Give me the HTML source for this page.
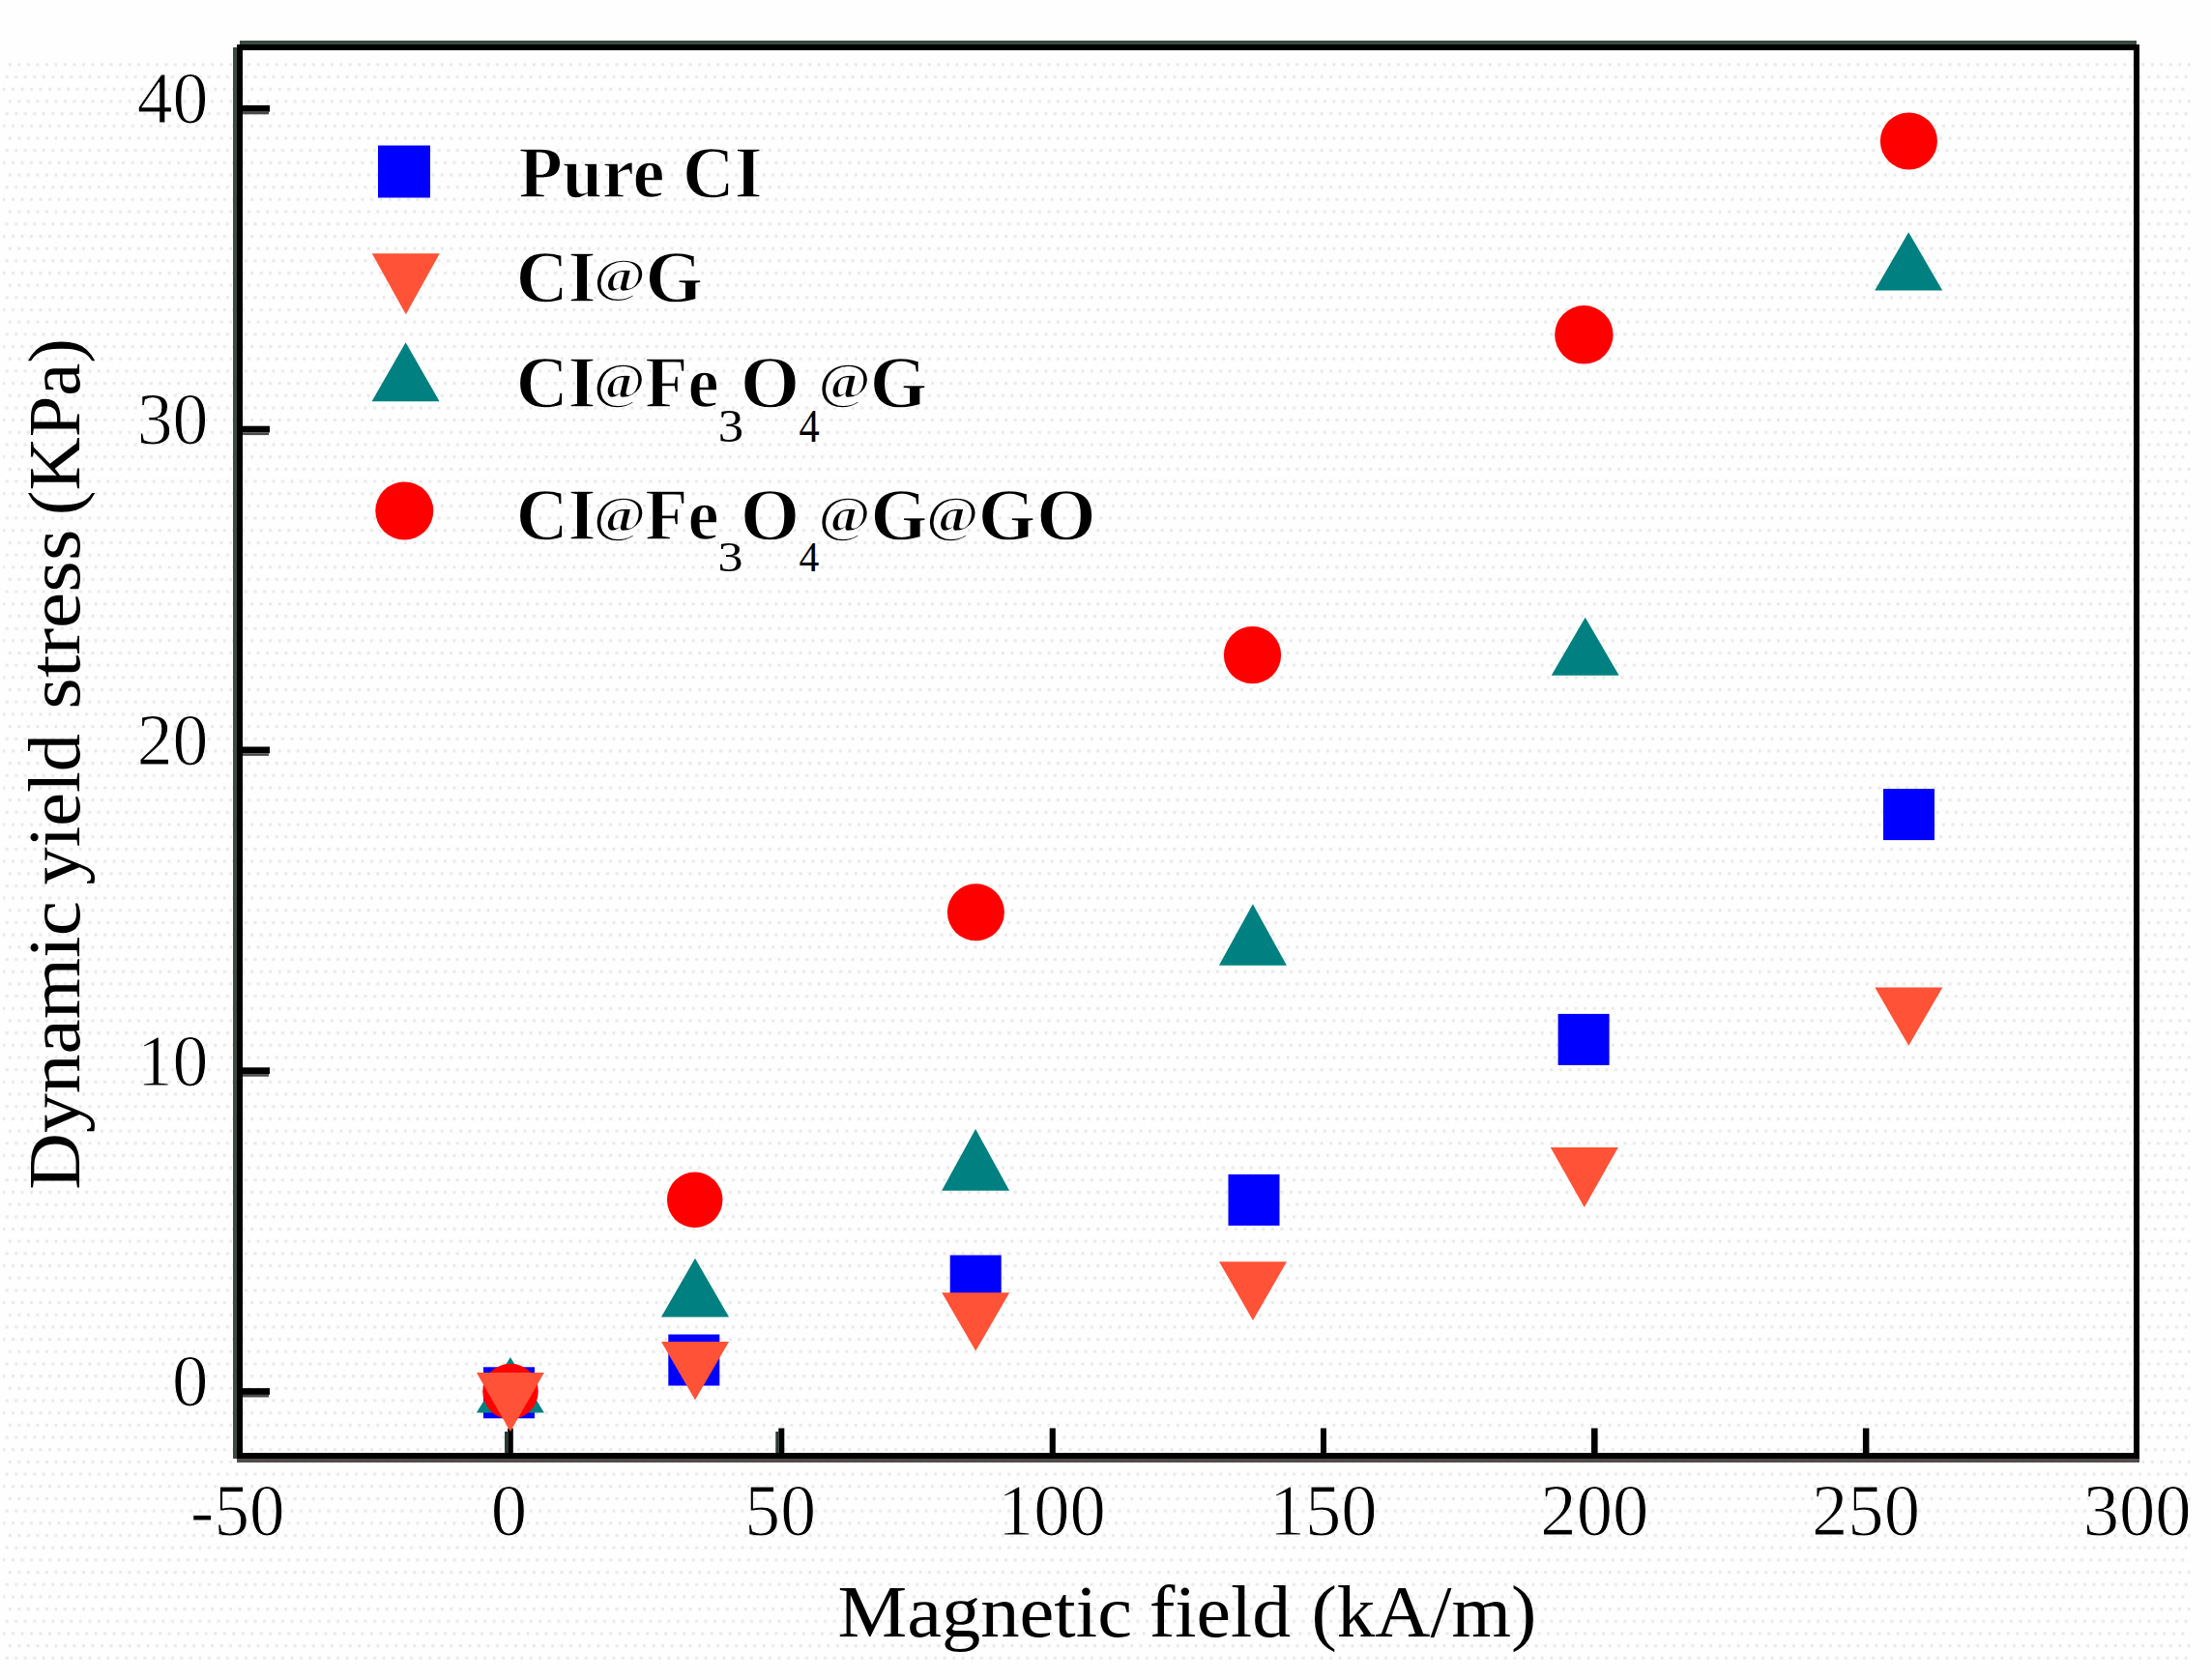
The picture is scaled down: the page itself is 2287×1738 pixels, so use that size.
<!DOCTYPE html><html><head><meta charset="utf-8"><style>html,body{margin:0;padding:0;background:#fff;width:2287px;height:1738px;overflow:hidden}svg{display:block}text{font-family:"Liberation Serif","Times New Roman",serif}</style></head><body>
<svg width="2287" height="1738" viewBox="0 0 2287 1738">
<defs><pattern id="dots" patternUnits="userSpaceOnUse" x="1305.3" y="204.8" width="9.51" height="38.04"><rect x="0" y="0" width="3.17" height="3.17" fill="#eaeaea"/><rect x="6.34" y="12.68" width="3.17" height="3.17" fill="#eaeaea"/><rect x="3.17" y="25.36" width="3.17" height="3.17" fill="#eaeaea"/></pattern></defs>
<rect width="2287" height="1738" fill="#fefefe"/>
<rect x="3" y="64" width="2263" height="1657" fill="url(#dots)"/>
<g shape-rendering="crispEdges">
<rect x="241" y="49" width="4" height="1460" fill="#3b4a40"/>
<rect x="248" y="42" width="1962" height="4" fill="#3b4a40"/>
<rect x="245" y="46" width="6" height="1463" fill="#000"/>
<rect x="245" y="46" width="1968" height="6" fill="#000"/>
<rect x="2207" y="46" width="6" height="1463" fill="#000"/>
<rect x="245" y="1503" width="1968" height="6" fill="#000"/>
<rect x="245" y="1509" width="1968" height="4" fill="#534c4c"/>
</g>
<rect x="251" y="1436.1" width="28" height="6.8" fill="#000"/>
<rect x="251" y="1442.9" width="27" height="2.6" fill="#4a4a48"/>
<rect x="251" y="1104.3" width="28" height="6.8" fill="#000"/>
<rect x="251" y="1111.1" width="27" height="2.6" fill="#4a4a48"/>
<rect x="251" y="772.5" width="28" height="6.8" fill="#000"/>
<rect x="251" y="779.3" width="27" height="2.6" fill="#4a4a48"/>
<rect x="251" y="440.7" width="28" height="6.8" fill="#000"/>
<rect x="251" y="447.5" width="27" height="2.6" fill="#4a4a48"/>
<rect x="251" y="108.9" width="28" height="6.8" fill="#000"/>
<rect x="251" y="115.7" width="27" height="2.6" fill="#4a4a48"/>
<rect x="525.2" y="1477.5" width="5.6" height="26" fill="#000"/>
<rect x="805.3" y="1477.5" width="6.0" height="26" fill="#000"/>
<rect x="1085.7" y="1477.5" width="6.1" height="26" fill="#000"/>
<rect x="1366" y="1477.5" width="6.0" height="26" fill="#000"/>
<rect x="1646" y="1477.5" width="6.6" height="26" fill="#000"/>
<rect x="1926.9" y="1477.5" width="6.5" height="26" fill="#000"/>
<rect x="522" y="1481" width="3.2" height="22" fill="#2a3a32"/>
<rect x="802.3" y="1481" width="3" height="22" fill="#2a3a32"/>
<rect x="500.0" y="1414.3" width="53" height="53" fill="#0000ff"/>
<rect x="691.3" y="1380.5" width="53" height="53" fill="#0000ff"/>
<rect x="982.7" y="1298.5" width="53" height="53" fill="#0000ff"/>
<rect x="1270.5" y="1214.9" width="53" height="53" fill="#0000ff"/>
<rect x="1611.6" y="1048.9" width="53" height="53" fill="#0000ff"/>
<rect x="1948.0" y="816.1" width="53" height="53" fill="#0000ff"/>
<polygon points="527.9,1404.0 562.9,1461.5 492.9,1461.5" fill="#008080"/>
<polygon points="719.0,1301.7 754.0,1362.5 684.0,1362.5" fill="#008080"/>
<polygon points="1009.1,1167.9 1044.1,1231.8 974.1,1231.8" fill="#008080"/>
<polygon points="1295.9,935.3 1330.9,998.7 1260.9,998.7" fill="#008080"/>
<polygon points="1639.7,638.7 1674.7,698.7 1604.7,698.7" fill="#008080"/>
<polygon points="1974.2,240.2 2009.2,300.4 1939.2,300.4" fill="#008080"/>
<circle cx="528.0" cy="1439.5" r="28.8" fill="#ff0000"/>
<circle cx="718.7" cy="1241.3" r="28.75" fill="#ff0000"/>
<circle cx="1009.4" cy="943.8" r="29.5" fill="#ff0000"/>
<circle cx="1295.5" cy="677.7" r="29.6" fill="#ff0000"/>
<circle cx="1638.4" cy="346.3" r="30.2" fill="#ff0000"/>
<circle cx="1974.4" cy="145.9" r="29.5" fill="#ff0000"/>
<polygon points="492.9,1419.9 562.9,1419.9 527.9,1480.9" fill="#ff5236"/>
<polygon points="684.0,1388.0 754.0,1388.0 719.0,1448.3" fill="#ff5236"/>
<polygon points="974.2,1337.3 1044.2,1337.3 1009.2,1397.6" fill="#ff5236"/>
<polygon points="1261.0,1305.2 1331.0,1305.2 1296.0,1365.9" fill="#ff5236"/>
<polygon points="1603.8,1187.0 1673.8,1187.0 1638.8,1249.0" fill="#ff5236"/>
<polygon points="1939.3,1021.4 2009.3,1021.4 1974.3,1081.8" fill="#ff5236"/>
<text x="178.05" y="1454.40" font-size="76" textLength="37.41" lengthAdjust="spacingAndGlyphs" stroke="#fefefe" stroke-width="1.0">0</text>
<text x="141.73" y="1122.60" font-size="76" textLength="73.68" lengthAdjust="spacingAndGlyphs" stroke="#fefefe" stroke-width="1.0">10</text>
<text x="141.73" y="790.80" font-size="76" textLength="73.68" lengthAdjust="spacingAndGlyphs" stroke="#fefefe" stroke-width="1.0">20</text>
<text x="141.73" y="459.00" font-size="76" textLength="73.68" lengthAdjust="spacingAndGlyphs" stroke="#fefefe" stroke-width="1.0">30</text>
<text x="141.73" y="127.20" font-size="76" textLength="73.68" lengthAdjust="spacingAndGlyphs" stroke="#fefefe" stroke-width="1.0">40</text>
<text x="245.80" y="1587.60" font-size="76" text-anchor="middle" textLength="97.47" lengthAdjust="spacingAndGlyphs" stroke="#fefefe" stroke-width="1.0">-50</text>
<text x="526.50" y="1587.60" font-size="76" text-anchor="middle" textLength="37.40" lengthAdjust="spacingAndGlyphs" stroke="#fefefe" stroke-width="1.0">0</text>
<text x="807.20" y="1587.60" font-size="76" text-anchor="middle" textLength="73.70" lengthAdjust="spacingAndGlyphs" stroke="#fefefe" stroke-width="1.0">50</text>
<text x="1087.90" y="1587.60" font-size="76" text-anchor="middle" textLength="111.90" lengthAdjust="spacingAndGlyphs" stroke="#fefefe" stroke-width="1.0">100</text>
<text x="1368.60" y="1587.60" font-size="76" text-anchor="middle" textLength="111.90" lengthAdjust="spacingAndGlyphs" stroke="#fefefe" stroke-width="1.0">150</text>
<text x="1649.30" y="1587.60" font-size="76" text-anchor="middle" textLength="111.90" lengthAdjust="spacingAndGlyphs" stroke="#fefefe" stroke-width="1.0">200</text>
<text x="1930.00" y="1587.60" font-size="76" text-anchor="middle" textLength="111.90" lengthAdjust="spacingAndGlyphs" stroke="#fefefe" stroke-width="1.0">250</text>
<text x="2210.70" y="1587.60" font-size="76" text-anchor="middle" textLength="111.90" lengthAdjust="spacingAndGlyphs" stroke="#fefefe" stroke-width="1.0">300</text>
<rect x="391.0" y="150.5" width="54" height="54" fill="#0000ff"/>
<polygon points="384.8,262.3 454.8,262.3 419.8,325.3" fill="#ff5236"/>
<polygon points="419.6,354.3 454.6,415.3 384.6,415.3" fill="#008080"/>
<circle cx="418.3" cy="528.5" r="30" fill="#ff0000"/>
<text x="536.44" y="203.90" font-size="77" font-weight="bold" textLength="252.12" lengthAdjust="spacingAndGlyphs" stroke="#fefefe" stroke-width="1.4">Pure CI</text>
<text x="533.63" y="311.80" font-size="77" font-weight="bold" textLength="82.87" lengthAdjust="spacingAndGlyphs" stroke="#fefefe" stroke-width="1.4">CI</text>
<text x="614.01" y="302.00" font-size="51.4" font-weight="bold" textLength="54.07" lengthAdjust="spacingAndGlyphs" stroke="#fefefe" stroke-width="1.4">@</text>
<text x="667.52" y="311.80" font-size="77" font-weight="bold" textLength="59.57" lengthAdjust="spacingAndGlyphs" stroke="#fefefe" stroke-width="1.4">G</text>
<text x="533.63" y="420.80" font-size="77" font-weight="bold" textLength="82.87" lengthAdjust="spacingAndGlyphs" stroke="#fefefe" stroke-width="1.4">CI</text>
<text x="613.79" y="412.00" font-size="52.5" font-weight="bold" textLength="53.96" lengthAdjust="spacingAndGlyphs" stroke="#fefefe" stroke-width="1.4">@</text>
<text x="667.26" y="420.80" font-size="77" font-weight="bold" textLength="76.22" lengthAdjust="spacingAndGlyphs" stroke="#fefefe" stroke-width="1.4">Fe</text>
<text x="765.85" y="420.80" font-size="77" font-weight="bold" textLength="61.46" lengthAdjust="spacingAndGlyphs" stroke="#fefefe" stroke-width="1.4">O</text>
<text x="846.57" y="412.00" font-size="52.5" font-weight="bold" textLength="54.30" lengthAdjust="spacingAndGlyphs" stroke="#fefefe" stroke-width="1.4">@</text>
<text x="899.84" y="420.80" font-size="77" font-weight="bold" textLength="59.35" lengthAdjust="spacingAndGlyphs" stroke="#fefefe" stroke-width="1.4">G</text>
<text x="533.63" y="558.00" font-size="77" font-weight="bold" textLength="82.87" lengthAdjust="spacingAndGlyphs" stroke="#fefefe" stroke-width="1.4">CI</text>
<text x="613.71" y="549.50" font-size="51.8" font-weight="bold" textLength="54.50" lengthAdjust="spacingAndGlyphs" stroke="#fefefe" stroke-width="1.4">@</text>
<text x="667.26" y="558.00" font-size="77" font-weight="bold" textLength="76.22" lengthAdjust="spacingAndGlyphs" stroke="#fefefe" stroke-width="1.4">Fe</text>
<text x="765.85" y="558.00" font-size="77" font-weight="bold" textLength="61.46" lengthAdjust="spacingAndGlyphs" stroke="#fefefe" stroke-width="1.4">O</text>
<text x="846.43" y="549.50" font-size="51.8" font-weight="bold" textLength="54.15" lengthAdjust="spacingAndGlyphs" stroke="#fefefe" stroke-width="1.4">@</text>
<text x="900.47" y="558.00" font-size="77" font-weight="bold" textLength="58.80" lengthAdjust="spacingAndGlyphs" stroke="#fefefe" stroke-width="1.4">G</text>
<text x="958.01" y="549.50" font-size="51.8" font-weight="bold" textLength="54.50" lengthAdjust="spacingAndGlyphs" stroke="#fefefe" stroke-width="1.4">@</text>
<text x="1011.73" y="558.00" font-size="77" font-weight="bold" textLength="59.46" lengthAdjust="spacingAndGlyphs" stroke="#fefefe" stroke-width="1.4">G</text>
<text x="1071.98" y="558.00" font-size="77" font-weight="bold" textLength="61.75" lengthAdjust="spacingAndGlyphs" stroke="#fefefe" stroke-width="1.4">O</text>
<text x="742.70" y="456.90" font-size="48" textLength="26.40" lengthAdjust="spacingAndGlyphs">3</text>
<text x="826.42" y="456.90" font-size="48" textLength="21.16" lengthAdjust="spacingAndGlyphs">4</text>
<text x="742.58" y="591.00" font-size="45" textLength="26.05" lengthAdjust="spacingAndGlyphs">3</text>
<text x="826.38" y="591.00" font-size="45" textLength="20.79" lengthAdjust="spacingAndGlyphs">4</text>
<g transform="translate(81.5,1228.6) rotate(-90)">
<text x="-2.14" y="0.00" font-size="76" textLength="298.52" lengthAdjust="spacingAndGlyphs">Dynamic</text>
<text x="313.07" y="0.00" font-size="76" textLength="156.43" lengthAdjust="spacingAndGlyphs">yield</text>
<text x="494.89" y="0.00" font-size="76" textLength="186.30" lengthAdjust="spacingAndGlyphs">stress</text>
<text x="695.58" y="0.00" font-size="76" textLength="182.86" lengthAdjust="spacingAndGlyphs">(KPa)</text>
</g>
<text x="866.56" y="1693.30" font-size="75.5" textLength="304.40" lengthAdjust="spacingAndGlyphs">Magnetic</text>
<text x="1188.78" y="1693.30" font-size="75.5" textLength="146.35" lengthAdjust="spacingAndGlyphs">field</text>
<text x="1356.46" y="1693.30" font-size="75.5" textLength="232.97" lengthAdjust="spacingAndGlyphs">(kA/m)</text>
</svg></body></html>
